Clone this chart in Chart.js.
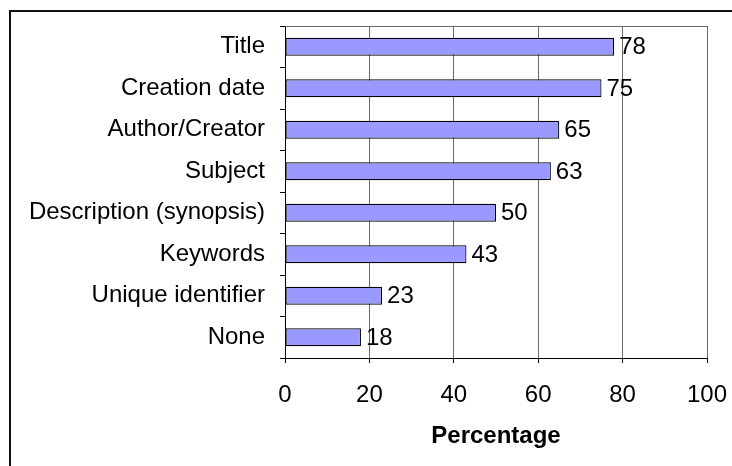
<!DOCTYPE html>
<html lang="en">
<head>
    <meta charset="UTF-8">
    <title>Metadata fields</title>
    <script src="https://cdn.jsdelivr.net/npm/chart.js"></script>
    <style>
        body { margin: 0; background: #fff; }
        canvas { display: block; }
    </style>
</head>
<body>
    <canvas id="chart" width="732" height="466"></canvas>

    <script>
        const categories = ['Title', 'Creation date', 'Author/Creator', 'Subject',
            'Description (synopsis)', 'Keywords', 'Unique identifier', 'None'];
        const percentages = [78, 75, 65, 63, 50, 43, 23, 18];
        const xTicks = [0, 20, 40, 60, 80, 100];

        const FONT = 'Arial, "Liberation Sans", sans-serif';
        const FONT_SIZE = 24;
        const GRID = '#6a6a6a';

        // value labels to the right of each bar, plus the outer frame and plot top edge
        const extras = {
            id: 'extras',
            beforeDraw(chart) {
                const ctx = chart.ctx;
                ctx.save();
                ctx.fillStyle = '#111';
                ctx.fillRect(9, 10, 2, 466);
                ctx.fillRect(9, 10, 732, 2);
                ctx.restore();
            },
            beforeDatasetsDraw(chart) {
                const { ctx, chartArea } = chart;
                ctx.save();
                ctx.strokeStyle = GRID;
                ctx.lineWidth = 1;
                ctx.beginPath();
                ctx.moveTo(chartArea.left, chartArea.top + 0.5);
                ctx.lineTo(chartArea.right, chartArea.top + 0.5);
                ctx.stroke();
                ctx.restore();
            },
            afterDatasetsDraw(chart) {
                const ctx = chart.ctx;
                const meta = chart.getDatasetMeta(0);
                ctx.save();
                ctx.fillStyle = '#000';
                ctx.font = FONT_SIZE + 'px ' + FONT;
                ctx.textBaseline = 'middle';
                ctx.textAlign = 'left';
                meta.data.forEach((bar, i) => {
                    ctx.fillText(String(percentages[i]), bar.x + 5, bar.y + 1);
                });
                ctx.restore();
            }
        };

        new Chart(document.getElementById('chart'), {
            type: 'bar',
            data: {
                labels: categories,
                datasets: [{
                    data: percentages,
                    backgroundColor: '#9999FF',
                    borderColor: '#000',
                    borderWidth: 1.2,
                    borderSkipped: false,
                    categoryPercentage: 1,
                    barPercentage: 0.43
                }]
            },
            options: {
                indexAxis: 'y',
                responsive: false,
                animation: false,
                events: [],
                layout: { padding: { top: 26, right: 25, left: 0, bottom: 0 } },
                plugins: {
                    legend: { display: false },
                    tooltip: { enabled: false }
                },
                scales: {
                    x: {
                        min: 0,
                        max: 100,
                        afterBuildTicks(scale) {
                            scale.ticks = xTicks.map(v => ({ value: v }));
                        },
                        afterFit(scale) {
                            scale.height = 108;
                            scale.paddingLeft = 0;
                            scale.paddingRight = 0;
                        },
                        grid: {
                            color: GRID,
                            tickColor: '#000',
                            tickLength: 5,
                            lineWidth: 1
                        },
                        border: { color: '#000', width: 1 },
                        ticks: {
                            color: '#000',
                            padding: 18,
                            maxRotation: 0,
                            font: { family: FONT, size: FONT_SIZE }
                        },
                        title: {
                            display: true,
                            text: 'Percentage',
                            color: '#000',
                            padding: { top: 14, bottom: 15 },
                            font: { family: FONT, size: FONT_SIZE, weight: 'bold' }
                        }
                    },
                    y: {
                        afterFit(scale) {
                            scale.width = 285;
                            scale.paddingTop = 0;
                            scale.paddingBottom = 0;
                        },
                        grid: {
                            drawOnChartArea: false,
                            offset: true,
                            color: '#000',
                            tickLength: 5
                        },
                        border: { color: '#000', width: 1 },
                        ticks: {
                            color: '#000',
                            padding: 15,
                            font: { family: FONT, size: FONT_SIZE }
                        }
                    }
                }
            },
            plugins: [extras]
        });
    </script>
</body>
</html>
